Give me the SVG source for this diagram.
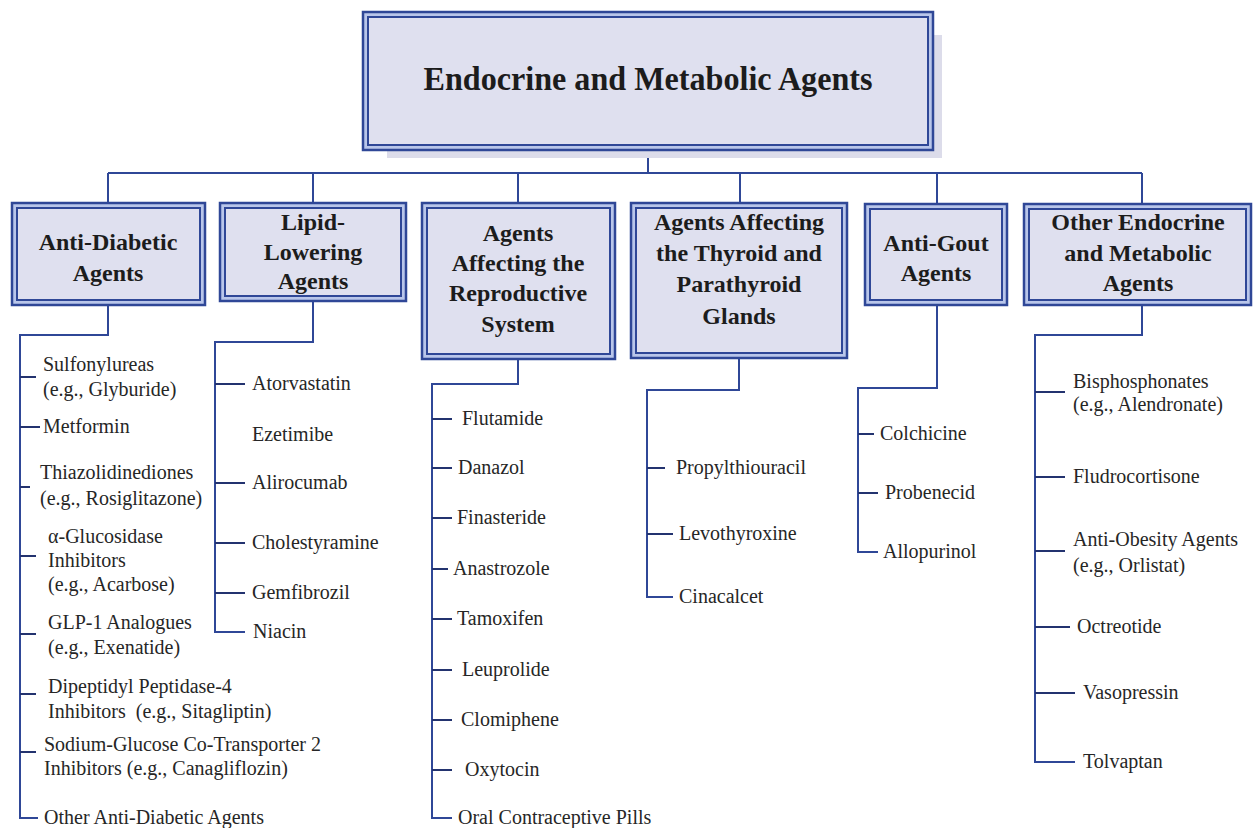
<svg xmlns="http://www.w3.org/2000/svg" width="1254" height="828" viewBox="0 0 1254 828">
<style>
.ob{fill:#b9c6ea;stroke:#2f4797;stroke-width:2.5}
.ib{fill:#dfe0ef;stroke:#2f4797;stroke-width:2}
.sh{fill:#dcdcea}
text{font-family:"Liberation Serif",Tinos,"Times New Roman",Times,"Nimbus Roman","DejaVu Serif",serif}
.t0{font-weight:bold;font-size:34px;fill:#1c1c1c;text-anchor:middle}
.t1{font-weight:bold;font-size:24px;fill:#1c1c1c;text-anchor:middle}
.t2{font-size:20px;fill:#262626}
.c{fill:none;stroke:#2f4797;stroke-width:2}
.k{fill:none;stroke:#23336f;stroke-width:2}
</style>
<rect width="1254" height="828" fill="#ffffff"/>

<g id="connectors">
<path class="c" d="M648 150V173M108 173H1142M108 173V203M313 173V203M518 173V203M740 173V203M937 173V204M1142 173V204"/>
<path class="c" d="M108 305V335H20V818H38"/>
<path class="k" d="M20 377H36M20 427H40M20 487H30M20 556H36M20 634H36M20 694H36M20 752H36"/>
<path class="c" d="M313 301V342H215V632H245"/>
<path class="k" d="M215 384H245M215 483H245M215 543H245M215 593H245"/>
<path class="c" d="M518 359V384H432V818H452"/>
<path class="k" d="M432 419H452M432 468H452M432 518H452M432 569H448M432 619H452M432 670H452M432 720H452M432 770H452"/>
<path class="c" d="M739 358V390H647V597H673"/>
<path class="k" d="M647 468H665M647 534H673"/>
<path class="c" d="M937 305V388H858V552H878"/>
<path class="k" d="M858 434H874M858 493H878"/>
<path class="c" d="M1142 305V335H1035V762H1075"/>
<path class="k" d="M1035 392H1065M1035 477H1065M1035 551H1065M1035 627H1070M1035 693H1075"/>
</g>

<g id="root">
<rect class="sh" x="387" y="35" width="555" height="123"/>
<rect class="ob" x="363" y="12" width="570" height="138"/>
<rect class="ib" x="368" y="17" width="560" height="128"/>
<text class="t0" x="648" y="90" textLength="449" lengthAdjust="spacingAndGlyphs">Endocrine and Metabolic Agents</text>
</g>

<g id="anti-diabetic">
<rect class="ob" x="12" y="203" width="193" height="102"/>
<rect class="ib" x="17" y="208" width="183" height="92"/>
<text class="t1" x="108" y="250">Anti-Diabetic</text>
<text class="t1" x="108" y="281">Agents</text>
</g>
<g id="lipid-lowering">
<rect class="ob" x="220" y="203" width="186" height="98"/>
<rect class="ib" x="225" y="208" width="176" height="88"/>
<text class="t1" x="313" y="230">Lipid-</text>
<text class="t1" x="313" y="260">Lowering</text>
<text class="t1" x="313" y="289">Agents</text>
</g>
<g id="reproductive">
<rect class="ob" x="422" y="203" width="193" height="156"/>
<rect class="ib" x="427" y="208" width="183" height="146"/>
<text class="t1" x="518" y="241">Agents</text>
<text class="t1" x="518" y="271">Affecting the</text>
<text class="t1" x="518" y="301">Reproductive</text>
<text class="t1" x="518" y="332">System</text>
</g>
<g id="thyroid">
<rect class="ob" x="631" y="203" width="216" height="155"/>
<rect class="ib" x="636" y="208" width="206" height="145"/>
<text class="t1" x="739" y="230">Agents Affecting</text>
<text class="t1" x="739" y="261">the Thyroid and</text>
<text class="t1" x="739" y="292">Parathyroid</text>
<text class="t1" x="739" y="324">Glands</text>
</g>
<g id="anti-gout">
<rect class="ob" x="865" y="204" width="142" height="101"/>
<rect class="ib" x="870" y="209" width="132" height="91"/>
<text class="t1" x="936" y="251">Anti-Gout</text>
<text class="t1" x="936" y="281">Agents</text>
</g>
<g id="other">
<rect class="ob" x="1024" y="204" width="227" height="101"/>
<rect class="ib" x="1029" y="209" width="217" height="91"/>
<text class="t1" x="1138" y="230">Other Endocrine</text>
<text class="t1" x="1138" y="261">and Metabolic</text>
<text class="t1" x="1138" y="291">Agents</text>
</g>

<g id="anti-diabetic-items">
<text class="t2" x="43" y="371">Sulfonylureas</text>
<text class="t2" x="43" y="396">(e.g., Glyburide)</text>
<text class="t2" x="43" y="433">Metformin</text>
<text class="t2" x="40" y="479">Thiazolidinediones</text>
<text class="t2" x="40" y="505">(e.g., Rosiglitazone)</text>
<text class="t2" x="48" y="543">α-Glucosidase</text>
<text class="t2" x="48" y="567">Inhibitors</text>
<text class="t2" x="48" y="591">(e.g., Acarbose)</text>
<text class="t2" x="48" y="629">GLP-1 Analogues</text>
<text class="t2" x="48" y="654">(e.g., Exenatide)</text>
<text class="t2" x="48" y="693">Dipeptidyl Peptidase-4</text>
<text class="t2" x="48" y="718" xml:space="preserve">Inhibitors  (e.g., Sitagliptin)</text>
<text class="t2" x="44" y="751">Sodium-Glucose Co-Transporter 2</text>
<text class="t2" x="44" y="775">Inhibitors (e.g., Canagliflozin)</text>
<text class="t2" x="44" y="824">Other Anti-Diabetic Agents</text>
</g>
<g id="lipid-items">
<text class="t2" x="252" y="390">Atorvastatin</text>
<text class="t2" x="252" y="441">Ezetimibe</text>
<text class="t2" x="252" y="489">Alirocumab</text>
<text class="t2" x="252" y="549">Cholestyramine</text>
<text class="t2" x="252" y="599">Gemfibrozil</text>
<text class="t2" x="253" y="638">Niacin</text>
</g>
<g id="reproductive-items">
<text class="t2" x="462" y="425">Flutamide</text>
<text class="t2" x="458" y="474">Danazol</text>
<text class="t2" x="457" y="524">Finasteride</text>
<text class="t2" x="453" y="575">Anastrozole</text>
<text class="t2" x="457" y="625">Tamoxifen</text>
<text class="t2" x="462" y="676">Leuprolide</text>
<text class="t2" x="461" y="726">Clomiphene</text>
<text class="t2" x="465" y="776">Oxytocin</text>
<text class="t2" x="458" y="824">Oral Contraceptive Pills</text>
</g>
<g id="thyroid-items">
<text class="t2" x="676" y="474">Propylthiouracil</text>
<text class="t2" x="679" y="540">Levothyroxine</text>
<text class="t2" x="679" y="603">Cinacalcet</text>
</g>
<g id="gout-items">
<text class="t2" x="880" y="440">Colchicine</text>
<text class="t2" x="885" y="499">Probenecid</text>
<text class="t2" x="883" y="558">Allopurinol</text>
</g>
<g id="other-items">
<text class="t2" x="1073" y="388">Bisphosphonates</text>
<text class="t2" x="1073" y="411">(e.g., Alendronate)</text>
<text class="t2" x="1073" y="483">Fludrocortisone</text>
<text class="t2" x="1073" y="546">Anti-Obesity Agents</text>
<text class="t2" x="1073" y="572">(e.g., Orlistat)</text>
<text class="t2" x="1077" y="633">Octreotide</text>
<text class="t2" x="1083" y="699">Vasopressin</text>
<text class="t2" x="1083" y="768">Tolvaptan</text>
</g>
</svg>
